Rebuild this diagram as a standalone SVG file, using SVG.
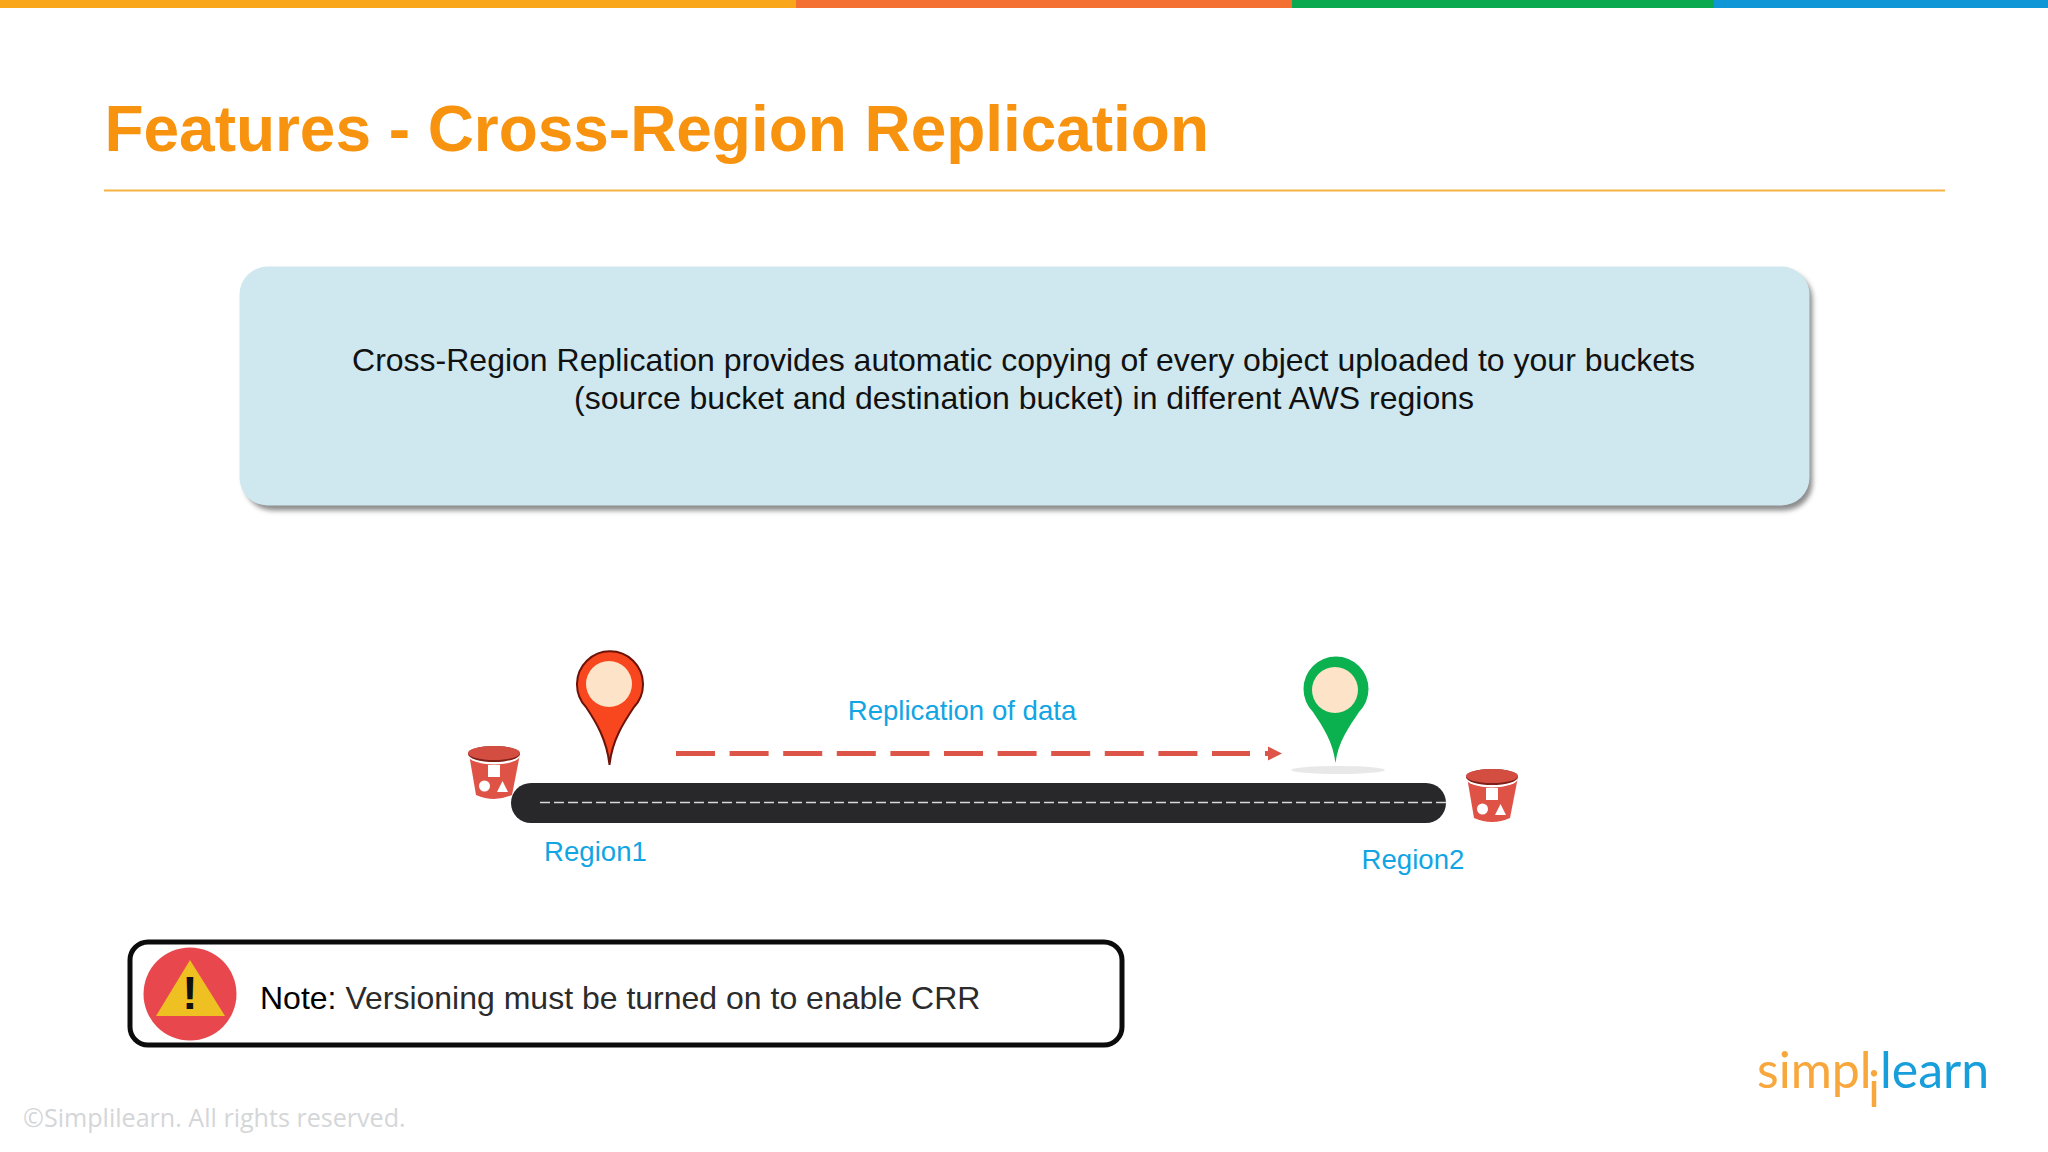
<svg xmlns="http://www.w3.org/2000/svg" xmlns:xlink="http://www.w3.org/1999/xlink" width="2048" height="1152" viewBox="0 0 2048 1152">
<style>
.s{font-family:"Liberation Sans",Arial,sans-serif}
.b{fill:#12a5e4;font-size:27.6px}
.logo{font-family:Lato,sans-serif;font-size:50px;font-weight:400}
</style>
<defs>
<filter id="sh" x="-5%" y="-10%" width="110%" height="120%"><feGaussianBlur stdDeviation="2.5"/></filter>
<g id="bucket">
<path d="M1 8 L8 49 Q26 57 44 49 L52 8 Z" fill="#df5347"/>
<ellipse cx="26" cy="9.500" rx="26" ry="9" fill="#fff"/>
<ellipse cx="26" cy="8" rx="26" ry="8" fill="#7e2018"/>
<ellipse cx="26" cy="7" rx="26" ry="7" fill="#d44d41"/>
<rect x="20" y="19" width="12" height="12" fill="#fff"/>
<circle cx="16.500" cy="40" r="5.500" fill="#fff"/>
<path d="M34.500 35 L40 46 L29 46 Z" fill="#fff"/>
</g>
</defs>
<rect width="2048" height="1152" fill="#fff"/>
<g id="topbar">
<rect x="0" y="0" width="796" height="8" fill="#faa61a"/>
<rect x="796" y="0" width="496" height="8" fill="#f37032"/>
<rect x="1292" y="0" width="422" height="8" fill="#0aa84f"/>
<rect x="1714" y="0" width="334" height="8" fill="#0f96d6"/>
</g>
<text id="title" class="s" x="104.500" y="151" font-size="64" font-weight="700" fill="#f7930e" textLength="1104.500">Features - Cross-Region Replication</text>
<line x1="104" y1="190.500" x2="1945" y2="190.500" stroke="#f5b342" stroke-width="2"/>
<g id="info">
<rect x="244.500" y="271.500" width="1568" height="239" rx="28" fill="#8c8c8c" filter="url(#sh)"/>
<rect x="239.500" y="266.500" width="1570" height="239" rx="28" fill="#cfe8ef"/>
<text class="s" text-anchor="middle" font-size="32" fill="#111"><tspan x="1023.500" y="370.500">Cross-Region Replication provides automatic copying of every object uploaded to your buckets</tspan><tspan x="1024" y="409">(source bucket and destination bucket) in different AWS regions</tspan></text>
</g>
<g id="road">
<rect x="511" y="783" width="935" height="40" rx="20" fill="#28282a"/>
<line x1="540" y1="802.500" x2="1446" y2="802.500" stroke="#d8d8d8" stroke-width="1.500" stroke-dasharray="10 4"/>
</g>
<g id="bucket1"><use xlink:href="#bucket" href="#bucket" x="468" y="746"/></g>
<g id="bucket2"><use xlink:href="#bucket" href="#bucket" x="1466" y="769"/></g>
<g id="pin1">
<path d="M609.500 765 C607 740 596 722 586 707 A33 33 0 1 1 634 707 C624 722 612 740 609.500 765 Z" fill="#f8461f" stroke="#6e1208" stroke-width="2"/>
<circle cx="609" cy="684" r="23" fill="#fde3c8"/>
<text x="595.500" y="861" class="s b" text-anchor="middle">Region1</text>
</g>
<g id="pin2">
<ellipse cx="1338" cy="770" rx="47" ry="4" fill="#e8e8e8"/>
<path d="M1335.500 763 C1333 742 1323 727 1313 712 A32.500 32.500 0 1 1 1359 712 C1349 727 1338 742 1335.500 763 Z" fill="#0bb04f"/>
<circle cx="1335" cy="690" r="23" fill="#fde3c8"/>
<text x="1413" y="869" class="s b" text-anchor="middle">Region2</text>
</g>
<g id="connectors">
<line x1="676" y1="753.500" x2="1250" y2="753.500" stroke="#dc5548" stroke-width="5" stroke-dasharray="39 14.600"/>
<rect x="1265" y="751" width="5" height="5" fill="#dc5548"/>
<path d="M1268 746.500 L1282 753.500 L1268 760.500 Z" fill="#dc5548"/>
</g>
<text id="edge-label" x="962" y="719.500" class="s b" text-anchor="middle">Replication of data</text>
<g id="note">
<rect x="130" y="942" width="992" height="103" rx="18" fill="#fff" stroke="#0c0c0c" stroke-width="5"/>
<circle cx="190" cy="994" r="46.500" fill="#e8484d"/>
<path d="M190 960 L225 1016 L156 1016 Z" fill="#eec022"/>
<text x="190" y="1009" class="s" text-anchor="middle" font-size="46" font-weight="700" fill="#111">!</text>
<text x="260" y="1009" class="s" font-size="32" fill="#2b2b2b"><tspan fill="#000">Note:</tspan> Versioning must be turned on to enable CRR</text>
</g>
<text id="copyright" x="23" y="1127" font-family="'Open Sans',sans-serif" font-size="25.100" fill="#d4d6d8">©Simplilearn. All rights reserved.</text>
<g id="logo">
<text class="logo" x="1757" y="1088" fill="#f8a73c">simpl</text>
<text class="logo" x="1868" y="1107" fill="#f8a73c">i</text>
<text class="logo" x="1880" y="1088" fill="#189fdb">learn</text>
</g>
</svg>
